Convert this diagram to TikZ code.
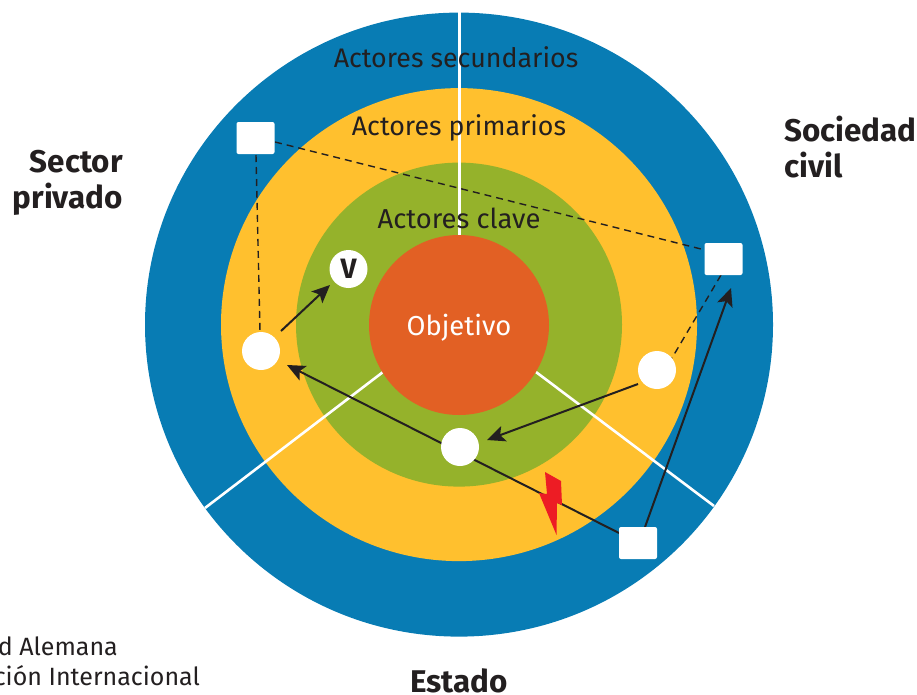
\documentclass[tikz,border=0pt]{standalone}
\usepackage{fontspec}
\setmainfont{Fira Sans}
\usetikzlibrary{arrows.meta,shapes.geometric}
\definecolor{ringblue}{HTML}{087CB4}
\definecolor{ringyellow}{HTML}{FFC02E}
\definecolor{ringgreen}{HTML}{95B22B}
\definecolor{ringorange}{HTML}{E26024}
\definecolor{boltred}{HTML}{ED1C24}
\definecolor{ink}{HTML}{231F20}
\pgfdeclarelayer{rings}
\pgfdeclarelayer{links}
\pgfsetlayers{rings,links,main}
\tikzset{
  ring/.style={ellipse,inner sep=0pt,outer sep=0pt},
  actor/.style={circle,fill=white,inner sep=0pt,outer sep=0pt,minimum size=38pt,text=ink,font=\fontsize{28}{28}\selectfont\bfseries},
  org/.style={rectangle,rounded corners=2pt,fill=white,inner sep=0pt,outer sep=0pt,minimum width=38pt,minimum height=32pt},
  ringlabel/.style={text=ink,font=\fontsize{26.8}{27}\selectfont,inner sep=0pt},
  sector/.style={text=ink,font=\fontsize{31.4}{35.5}\selectfont\bfseries,inner sep=0pt},
  foot/.style={text=ink,font=\fontsize{25}{29}\selectfont,inner sep=0pt},
  solidlink/.style={draw=ink,line width=2pt,-{Stealth[length=18pt,width=16pt,inset=4pt]}},
  dashlink/.style={draw=ink,line width=1.4pt,dash pattern=on 7pt off 5pt},
  divider/.style={draw=white,line width=2.6pt}
}
\begin{document}
\begin{tikzpicture}[x=1pt,y=-1pt]
\useasboundingbox (0,0) rectangle (917,694);
\begin{pgfonlayer}{rings}
\node[ring,minimum width=628pt,minimum height=624pt,fill=ringblue] (outer) at (459,324.6) {};
\node[ring,minimum width=476pt,minimum height=473pt,fill=ringyellow] (middle) at (459,324.6) {};
\node[ring,minimum width=326pt,minimum height=324pt,fill=ringgreen] (inner) at (459,324.6) {};
\coordinate (topa) at (459.5,12);
\coordinate (topb) at (459.5,236);
\coordinate (lefta) at (383,372);
\coordinate (leftb) at (205,508);
\coordinate (righta) at (536,372);
\coordinate (rightb) at (714,506);
\draw[divider] (topa) -- (topb);
\draw[divider] (lefta) -- (leftb);
\draw[divider] (righta) -- (rightb);
\end{pgfonlayer}
\node[ring,minimum width=180pt,minimum height=180pt,fill=ringorange,text=white,font=\fontsize{27.4}{27}\selectfont] (goal) at (459,325) {\raisebox{-3pt}[\height][\depth]{Objetivo}};
\node[ringlabel] (sec) at (456,57.5) {Actores secundarios};
\node[ringlabel] (pri) at (459,127.5) {Actores primarios};
\node[ringlabel,font=\fontsize{27.4}{27}\selectfont] (cla) at (459,218.5) {Actores clave};
\node[org] (sqa) at (255.5,138) {};
\node[org] (sqb) at (723.5,259) {};
\node[org] (sqc) at (638,543) {};
\node[actor] (cl) at (261,351) {};
\node[actor] (cv) at (348.5,269) {V};
\node[actor] (cr) at (657,370) {};
\node[actor] (cb) at (460,447) {};
\coordinate (tipv) at (330,285);
\coordinate (tipb) at (487,440);
\coordinate (tipl) at (287,365);
\coordinate (tipq) at (731,288);
\coordinate (starv) at (281,331);
\coordinate (starb) at (638,384);
\coordinate (starl) at (619,533);
\coordinate (starq) at (645,527);
\coordinate (daa) at (256,155);
\coordinate (dab) at (260,332);
\coordinate (dba) at (275,142);
\coordinate (dbb) at (705,250);
\coordinate (dca) at (721,275);
\coordinate (dcb) at (672,358);
\begin{pgfonlayer}{links}
\draw[solidlink] (starv) -- (tipv);
\draw[solidlink] (starb) -- (tipb);
\draw[solidlink] (starl) -- (tipl);
\draw[solidlink] (starq) -- (tipq);
\draw[dashlink] (daa) -- (dab);
\draw[dashlink] (dba) -- (dbb);
\draw[dashlink] (dca) -- (dcb);
\end{pgfonlayer}
\fill[boltred] (545,472) -- (561,481) -- (562,505) -- (557,503) -- (556.5,535) -- (539,493) -- (547,494) -- cycle;
\node[sector,align=right,anchor=north east] (priv) at (123,150) {Sector\\privado};
\node[sector,align=left,anchor=north west] (civ) at (784,116) {Sociedad\\civil};
\node[sector,anchor=base] (est) at (459,692) {Estado};
\node[foot,anchor=base east] (fa) at (118,655.5) {d Alemana};
\node[foot,anchor=base east] (fb) at (200,685) {ción Internacional};
\end{tikzpicture}
\end{document}
